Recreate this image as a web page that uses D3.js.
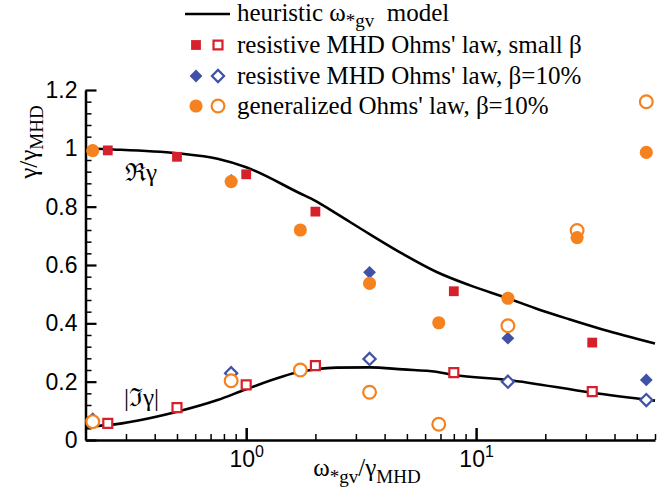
<!DOCTYPE html>
<html>
<head>
<meta charset="utf-8">
<script src="https://cdn.jsdelivr.net/npm/d3@7/dist/d3.min.js"></script>
<style>
  html, body { margin: 0; padding: 0; background: #fff; }
  svg { display: block; }
</style>
</head>
<body>
<div id="chart"></div>
<script>
// Normalized growth rate vs. normalized diamagnetic frequency

// Heuristic model curves (real part and imaginary magnitude)
const modelReX = [0.2, 0.25, 0.5, 0.75, 1, 1.72, 2, 2.46, 3.44, 4.8, 6.7, 9.35, 13.75, 18.2, 25.4, 35.5, 60];
const modelReY = [1.0, 0.997, 0.983, 0.964, 0.935, 0.845, 0.82, 0.777, 0.706, 0.638, 0.577, 0.531, 0.486, 0.451, 0.414, 0.379, 0.331];
const modelImX = [0.2, 0.25, 0.5, 0.75, 1, 1.72, 2, 2.46, 3.44, 4.8, 6.7, 8, 13.75, 32, 60];
const modelImY = [0.046, 0.051, 0.097, 0.137, 0.174, 0.234, 0.242, 0.248, 0.249, 0.242, 0.234, 0.223, 0.206, 0.162, 0.135];

// Resistive MHD Ohm's law, small beta
const redX  = [0.25, 0.5, 1, 2, 8, 32];
const redRe = [0.993, 0.971, 0.911, 0.783, 0.51, 0.334];
const redIm = [0.057, 0.111, 0.189, 0.255, 0.231, 0.166];

// Resistive MHD Ohm's law, beta = 10%
const blueX  = [0.215, 0.86, 3.44, 13.75, 55];
const blueRe = [0.993, 0.89, 0.575, 0.349, 0.206];
const blueIm = [0.069, 0.229, 0.278, 0.2, 0.137];

// Generalized Ohm's law, beta = 10%
const orangeX  = [0.215, 0.86, 1.72, 3.44, 6.88, 13.75, 27.5, 55];
const orangeRe = [0.992, 0.886, 0.72, 0.537, 0.402, 0.486, 0.694, 0.986];
const orangeIm = [0.063, 0.203, 0.24, 0.164, 0.054, 0.392, 0.718, 1.16];

// Axis ticks
const yMajorTicks = [0, 0.2, 0.4, 0.6, 0.8, 1, 1.2];
const yTickLabels = ["0", "0.2", "0.4", "0.6", "0.8", "1", "1.2"];
const yMinorTicks = [0.04, 0.08, 0.12, 0.16, 0.24, 0.28, 0.32, 0.36, 0.44, 0.48, 0.52, 0.56,
                     0.64, 0.68, 0.72, 0.76, 0.84, 0.88, 0.92, 0.96, 1.04, 1.08, 1.12, 1.16];
const xMajorTicks = [1, 10];
const xTickExponents = ["0", "1"];
const xMinorTicks = [0.3, 0.4, 0.5, 0.6, 0.7, 0.8, 0.9, 2, 3, 4, 5, 6, 7, 8, 9, 20, 30, 40, 50, 60];

const RED = "#d6202b", BLUE = "#3f52a6", ORANGE = "#f5821f";
const SERIF = "'Liberation Serif', 'Times New Roman', 'DejaVu Serif', serif";
const SANS = "'Liberation Sans', Arial, Helvetica, sans-serif";

const W = 672, H = 491;
const svg = d3.select("#chart").append("svg")
  .attr("width", W).attr("height", H)
  .attr("viewBox", `0 0 ${W} ${H}`);
svg.append("rect").attr("width", W).attr("height", H).attr("fill", "#fff");

const x = d3.scaleLog().domain([0.2, 60]).range([85.5, 655]);
const y = d3.scaleLinear().domain([0, 1.2]).range([440, 90]);

// ---- axes ----
const axisStyle = g => {
  g.select(".domain").attr("stroke", "#000").attr("stroke-width", 2.5);
  g.selectAll(".tick line").attr("stroke", "#000");
};

// y minor ticks
svg.append("g").attr("transform", `translate(${x.range()[0]},0)`)
  .call(d3.axisLeft(y).tickValues(yMinorTicks).tickSize(-6).tickSizeOuter(0).tickFormat(""))
  .call(g => { g.select(".domain").remove(); g.selectAll(".tick line").attr("stroke", "#000").attr("stroke-width", 1.5); });

// y major ticks + labels
svg.append("g").attr("transform", `translate(${x.range()[0]},0)`)
  .call(d3.axisLeft(y).tickValues(yMajorTicks).tickSize(-11).tickSizeOuter(0)
        .tickFormat((d, i) => yTickLabels[i]).tickPadding(8))
  .call(axisStyle)
  .call(g => g.selectAll(".tick line").attr("stroke-width", 2.2))
  .call(g => g.selectAll(".tick text")
        .attr("font-family", SANS).attr("font-size", 23).attr("fill", "#000"));

// x minor ticks
svg.append("g").attr("transform", `translate(0,${y.range()[0]})`)
  .call(d3.axisBottom(x).tickValues(xMinorTicks).tickSize(-6).tickSizeOuter(0).tickFormat(""))
  .call(g => { g.select(".domain").remove(); g.selectAll(".tick line").attr("stroke", "#000").attr("stroke-width", 1.5); });

// x major ticks + power-of-ten labels
svg.append("g").attr("transform", `translate(0,${y.range()[0]})`)
  .call(d3.axisBottom(x).tickValues(xMajorTicks).tickSize(-12).tickSizeOuter(0).tickFormat(""))
  .call(axisStyle)
  .call(g => g.selectAll(".tick line").attr("stroke-width", 2.5))
  .call(g => g.selectAll(".tick").each(function (d, i) {
    const t = d3.select(this).append("text")
      .attr("y", 27).attr("fill", "#000").attr("text-anchor", "middle")
      .attr("font-family", SANS).attr("font-size", 23);
    t.append("tspan").text("10");
    t.append("tspan").attr("dy", -10).attr("font-size", 16).text(xTickExponents[i]);
  }));

// axis titles
const yTitle = svg.append("text")
  .attr("transform", "translate(37,142) rotate(-90)")
  .attr("text-anchor", "middle")
  .attr("font-family", SERIF).attr("font-size", 25).attr("fill", "#000");
yTitle.append("tspan").text("γ/γ");
yTitle.append("tspan").attr("dy", 6).attr("font-size", 19).text("MHD");

const xTitle = svg.append("text")
  .attr("x", 367).attr("y", 476)
  .attr("text-anchor", "middle")
  .attr("font-family", SERIF).attr("font-size", 25).attr("fill", "#000");
xTitle.append("tspan").text("ω");
xTitle.append("tspan").attr("dy", 7).attr("font-size", 19).text("*gv");
xTitle.append("tspan").attr("dy", -7).text("/γ");
xTitle.append("tspan").attr("dy", 7).attr("font-size", 19).text("MHD");

// ---- model curves ----
const line = d3.line().x(d => x(d[0])).y(d => y(d[1])).curve(d3.curveMonotoneX);
[[modelReX, modelReY], [modelImX, modelImY]].forEach(([xs, ys]) => {
  svg.append("path")
    .datum(xs.map((v, i) => [v, ys[i]]))
    .attr("d", line)
    .attr("fill", "none").attr("stroke", "#000").attr("stroke-width", 2.6);
});

// curve annotations
svg.append("text").attr("x", 125).attr("y", 181)
  .attr("font-family", SERIF).attr("font-size", 25).attr("fill", "#000").text("ℜγ");
svg.append("text").attr("x", 124).attr("y", 406)
  .attr("font-family", SERIF).attr("font-size", 25).attr("fill", "#000").text("|ℑγ|");

// ---- markers ----
const shapes = {
  square:  { type: d3.symbolSquare, filled: 96, open: 80, rot: 0 },
  diamond: { type: d3.symbolSquare, filled: 82, open: 74, rot: 45 },
  circle:  { type: d3.symbolCircle, filled: 135, open: 128, rot: 0 }
};
function marker(g, shape, color, filled, cx, cy) {
  const s = shapes[shape];
  g.append("path")
    .attr("d", d3.symbol().type(s.type).size(filled ? s.filled : s.open)())
    .attr("transform", `translate(${cx},${cy}) rotate(${s.rot})`)
    .attr("fill", filled ? color : "#fff")
    .attr("stroke", filled ? "none" : color)
    .attr("stroke-width", filled ? 0 : 2.2);
}
function series(xs, re, im, shape, color) {
  const g = svg.append("g");
  xs.forEach((v, i) => marker(g, shape, color, false, x(v), y(im[i])));
  xs.forEach((v, i) => marker(g, shape, color, true, x(v), y(re[i])));
}
series(redX, redRe, redIm, "square", RED);
series(blueX, blueRe, blueIm, "diamond", BLUE);
series(orangeX, orangeRe, orangeIm, "circle", ORANGE);

// ---- legend ----
const legend = svg.append("g").attr("font-family", SERIF).attr("font-size", 25).attr("fill", "#000");
legend.append("line").attr("x1", 185).attr("x2", 230).attr("y1", 14).attr("y2", 14)
  .attr("stroke", "#000").attr("stroke-width", 2.6);
const l0 = legend.append("text").attr("x", 237).attr("y", 21);
l0.append("tspan").text("heuristic ω");
l0.append("tspan").attr("dy", 6).attr("font-size", 19).text("*gv");
l0.append("tspan").attr("dy", -6).text("\u00a0 model");

const legendRows = [
  { shape: "square",  color: RED,    cy: 45,  label: "resistive MHD Ohms' law, small β" },
  { shape: "diamond", color: BLUE,   cy: 76,  label: "resistive MHD Ohms' law, β=10%" },
  { shape: "circle",  color: ORANGE, cy: 106, label: "generalized Ohms' law, β=10%" }
];
legendRows.forEach(r => {
  marker(legend, r.shape, r.color, true, 196, r.cy);
  marker(legend, r.shape, r.color, false, 218, r.cy);
  legend.append("text").attr("x", 237).attr("y", r.cy + 8).text(r.label);
});
</script>
</body>
</html>
